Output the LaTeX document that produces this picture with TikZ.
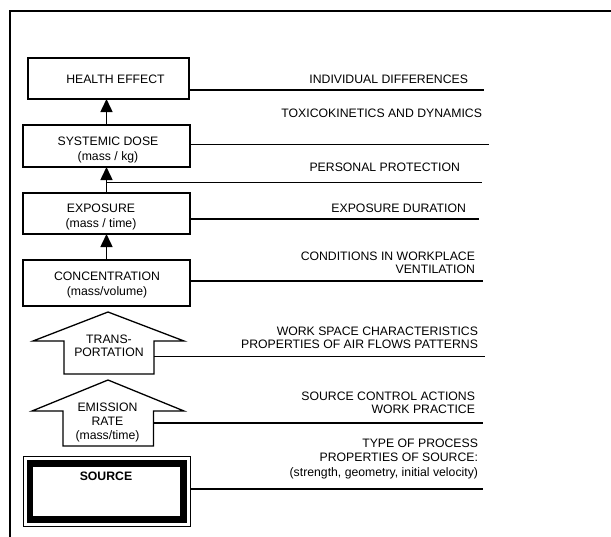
\documentclass[tikz,border=0pt]{standalone}
\usepackage{fontspec}
\setmainfont{Liberation Sans}
\usetikzlibrary{arrows.meta}
\begin{document}
\begin{tikzpicture}[x=1pt,y=-1pt,
  every node/.style={outer sep=0pt},
  box/.style={draw, line width=1.3pt, inner sep=0pt},
  boxtext/.style={inner sep=0pt, align=center, font=\fontsize{12.25}{14.5}\selectfont},
  sidetext/.style={inner sep=0pt, anchor=east, align=right, font=\fontsize{12.25}{13}\selectfont},
  feeder/.style={line width=1.2pt},
  uparrow/.style={line width=1.5pt, -{Triangle[width=12pt,length=13pt]}},
  blockarrow/.style={draw, line width=1.3pt, line join=miter, fill=white},
  frame/.style={line width=2pt}]
\useasboundingbox (0,0) rectangle (611,536);
\fill[white] (0,0) rectangle (611,536);
\draw[frame] (10,540) -- (10,11) -- (615,11);

% boxes
\node[box, minimum width=161pt, minimum height=41pt] (he) at (108.5,78.5) {};
\node[box, minimum width=167pt, minimum height=42pt] (sd) at (106.5,146) {};
\node[box, minimum width=167pt, minimum height=41pt] (ex) at (106.5,213.5) {};
\node[box, minimum width=167pt, minimum height=46pt] (co) at (106.5,283) {};

\node[boxtext] (heT) at (115.5,79) {HEALTH EFFECT};
\node[boxtext] (sdT) at (108,150) {SYSTEMIC DOSE\\(mass / kg)};
\node[boxtext] (exT) at (101,216.8) {EXPOSURE\\(mass / time)};
\node[boxtext] (coT) at (107,284.8) {CONCENTRATION\\(mass/volume)};

% arrows between boxes
\draw[uparrow] (sd.north) -- (sd.north |- he.south);
\draw[uparrow] (ex.north) -- (ex.north |- sd.south);
\draw[uparrow] (co.north) -- (co.north |- ex.south);

% block arrows
\draw[blockarrow] (108,312) -- (184,341) -- (154,341) -- (154,374) -- (64,374) -- (64,341) -- (33,341) -- cycle;
\coordinate (trR) at (154,356.5);
\node[boxtext, font=\fontsize{12.25}{13}\selectfont] (trT) at (109,345.5) {TRANS-\\PORTATION};

\draw[blockarrow] (108,380) -- (184,411) -- (153.5,411) -- (153.5,446) -- (63,446) -- (63,411) -- (32,411) -- cycle;
\coordinate (emR) at (153.5,423);
\node[boxtext, font=\fontsize{12.25}{14}\selectfont] (emT) at (107.5,422.3) {EMISSION\\RATE\\(mass/time)};

% source
\node[draw, line width=6.5pt, inner sep=0pt, minimum width=153.5pt, minimum height=56pt] (src) at (106.75,491.5) {};
\draw[line width=1pt] ([shift={(-7pt,7pt)}]src.north west) coordinate (srcNW)
   rectangle ([shift={(7pt,-7pt)}]src.south east) coordinate (srcSE);
\node[boxtext, font=\fontsize{12.25}{14}\selectfont\bfseries] (srcT) at (106,476) {SOURCE};

% side lines (free ends)
\coordinate (e1) at (484,90);
\coordinate (e2) at (489,144.5);
\coordinate (e3) at (482,182.5);
\coordinate (e4) at (479,219);
\coordinate (e5) at (483,281);
\coordinate (e6) at (485,356.5);
\coordinate (e7) at (483,423);
\coordinate (e8) at (483,489);

\draw[feeder] (he.east |- e1) -- (e1);
\draw[feeder] (sd.east |- e2) -- (e2);
\draw[feeder] (ex.north |- e3) -- (e3);
\draw[feeder] (ex.east |- e4) -- (e4);
\draw[feeder] (co.east |- e5) -- (e5);
\draw[feeder] (trR) -- (e6);
\draw[feeder] (emR) -- (e7);
\draw[feeder] (srcSE |- e8) -- (e8);

% side texts
\node[sidetext] (t1) at (468,79) {INDIVIDUAL DIFFERENCES};
\node[sidetext] (t2) at (482,113) {TOXICOKINETICS AND DYNAMICS};
\node[sidetext] (t3) at (460,167) {PERSONAL PROTECTION};
\node[sidetext] (t4) at (466,208) {EXPOSURE DURATION};
\node[sidetext] (t5) at (475,262.5) {CONDITIONS IN WORKPLACE\\VENTILATION};
\node[sidetext] (t6) at (478,337.5) {WORK SPACE CHARACTERISTICS\\PROPERTIES OF AIR FLOWS PATTERNS};
\node[sidetext, font=\fontsize{12.25}{12.5}\selectfont] (t7) at (475,403) {SOURCE CONTROL ACTIONS\\WORK PRACTICE};
\node[sidetext, font=\fontsize{12.25}{14.5}\selectfont] (t8) at (478,458.8) {TYPE OF PROCESS\\PROPERTIES OF SOURCE:\\(strength, geometry, initial velocity)};
\end{tikzpicture}
\end{document}
